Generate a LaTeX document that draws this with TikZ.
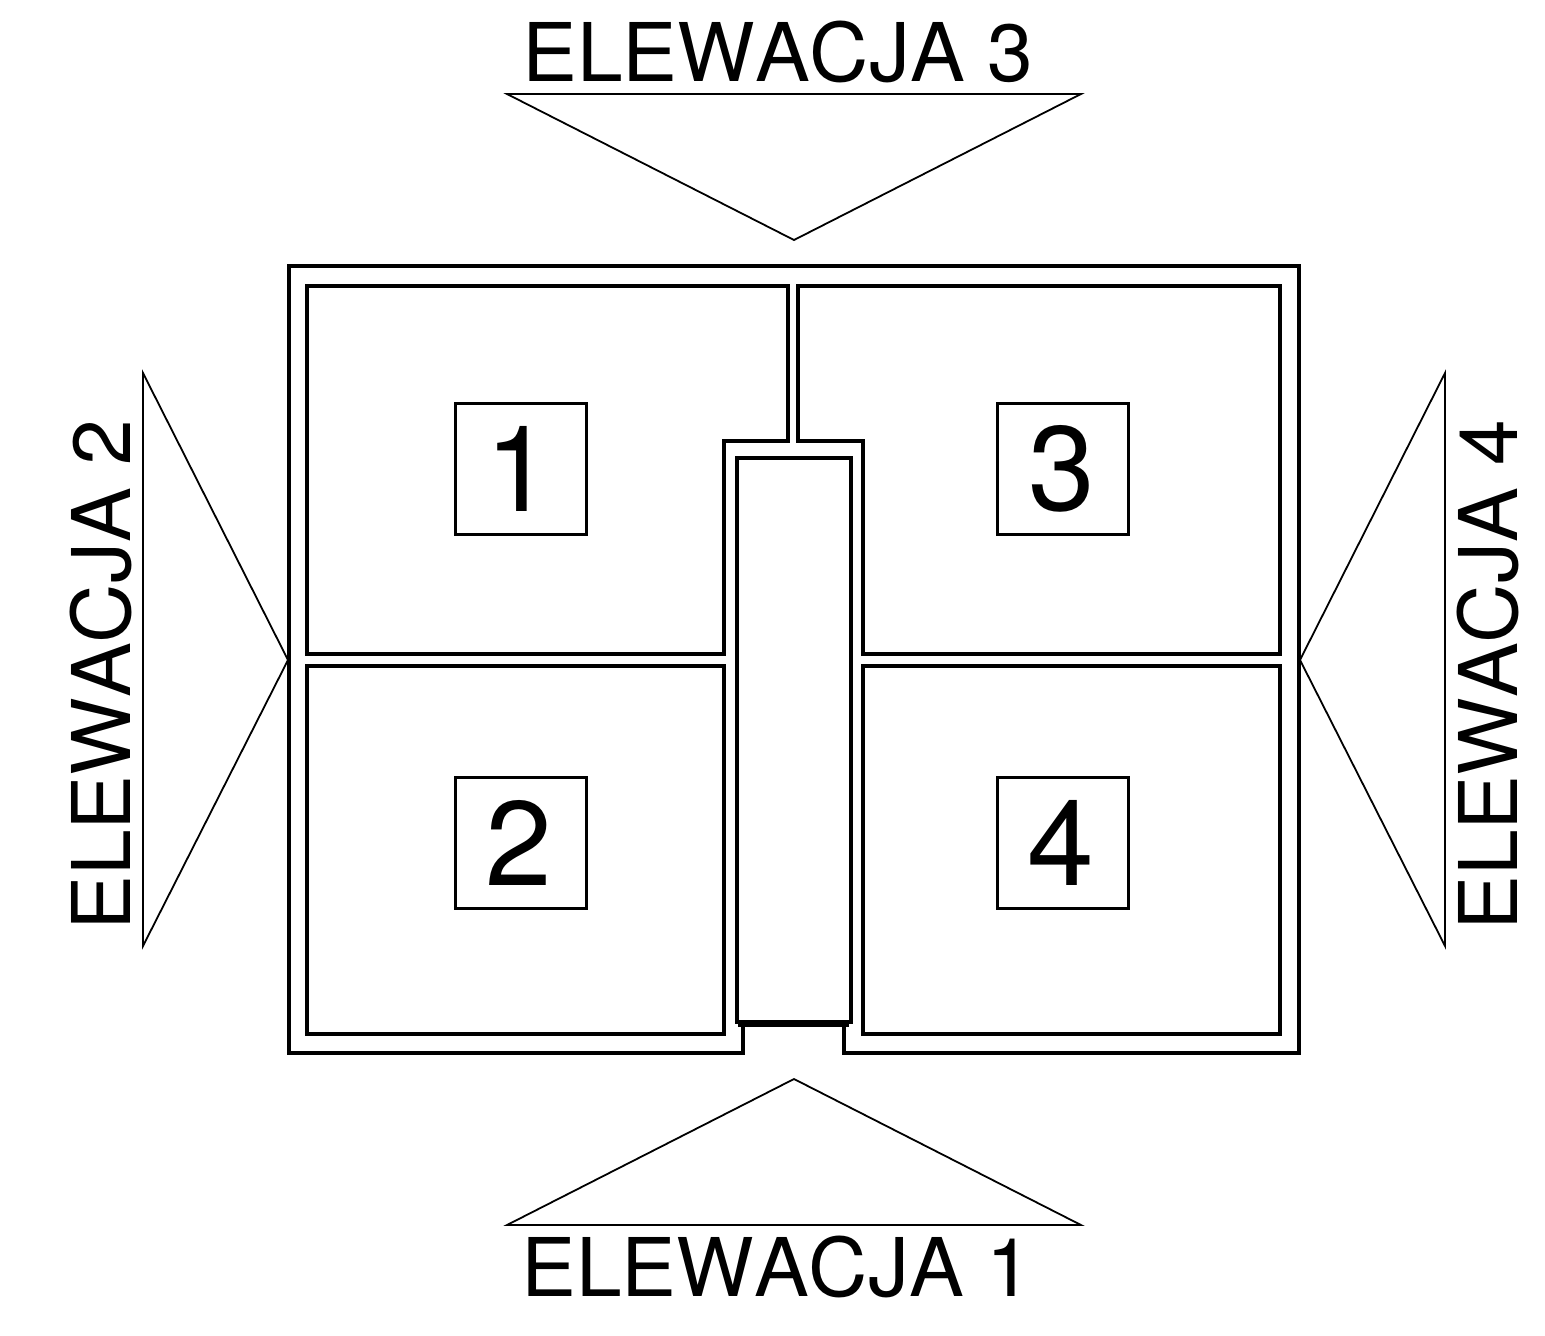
\documentclass[tikz,border=0pt]{standalone}
\usepackage{fontspec}
\setmainfont[Kerning=Off]{TeX Gyre Heros}
\newfontfamily\elevfont[Kerning=Off,FakeStretch=1.014]{TeX Gyre Heros}
\tikzset{
  wall/.style={line width=4.5pt,line join=miter,draw=black},
  thin line/.style={line width=1.8pt,line join=miter,draw=black},
  numbox/.style={draw=black,line width=2.2pt,minimum size=131pt,inner sep=0pt,font=\fontsize{120}{120}\selectfont},
  elev/.style={inner sep=0pt,anchor=base,font=\elevfont\fontsize{81}{81}\selectfont}
}
\begin{document}
\begin{tikzpicture}[x=1pt,y=-1pt]
\useasboundingbox (0,0) rectangle (1545,1336);
% outer wall
\draw[wall] (743,1026) -- (743,1053) -- (289,1053) -- (289,266) -- (1299,266) -- (1299,1053) -- (844,1053) -- (844,1026);
\draw[wall] (738,1025) -- (849,1025);
% rooms
\draw[wall] (307,286) -- (788,286) -- (788,441) -- (724,441) -- (724,654) -- (307,654) -- cycle;
\draw[wall] (798,286) -- (1280,286) -- (1280,654) -- (863,654) -- (863,441) -- (798,441) -- cycle;
\draw[wall] (307,666) -- (724,666) -- (724,1034) -- (307,1034) -- cycle;
\draw[wall] (863,666) -- (1280,666) -- (1280,1034) -- (863,1034) -- cycle;
\draw[wall] (737,458) -- (851,458) -- (851,1022) -- (737,1022) -- cycle;
% viewpoint triangles
\draw[thin line] (507,94) -- (1081,94) -- (794,240) -- cycle;
\draw[thin line] (507,1225) -- (1081,1225) -- (794,1079) -- cycle;
\draw[thin line] (143,373) -- (143,946) -- (288,660) -- cycle;
\draw[thin line] (1445,373) -- (1445,946) -- (1300,660) -- cycle;
% room numbers
\node[numbox] (n1) at (521,469) {\hspace*{-4pt}1};
\node[numbox] (n3) at (1063,469) {\hspace*{-2pt}3};
\node[numbox] (n2) at (521,843) {\hspace*{-4pt}2};
\node[numbox] (n4) at (1063,843) {\hspace*{-5pt}4};
% labels
\node[elev] (e3) at (778,81.5) {ELEWACJA 3};
\node[elev] (e1) at (777,1296) {ELEWACJA 1};
\node[elev,rotate=90] (e2) at (130,675) {ELEWACJA 2};
\node[elev,rotate=90] (e4) at (1517,675) {ELEWACJA 4};
\end{tikzpicture}
\end{document}
